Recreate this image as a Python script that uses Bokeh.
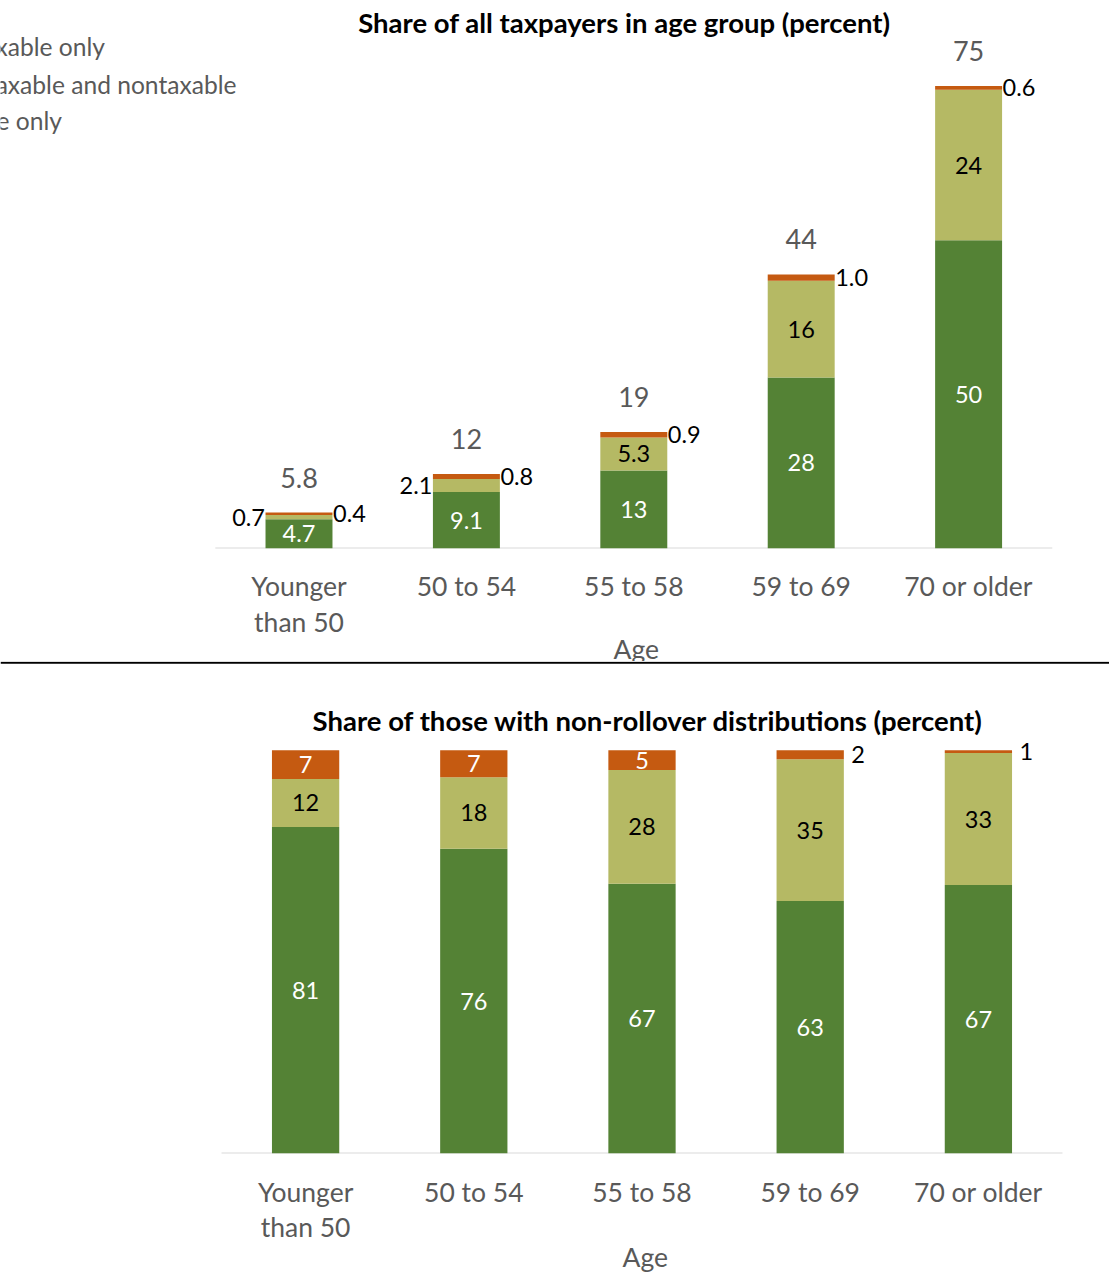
from bokeh.plotting import figure
from bokeh.models import ColumnDataSource, Range1d, Span, Title, FixedTicker
from bokeh.layouts import column
from bokeh.embed import file_html
from bokeh.resources import INLINE
from bokeh.core.properties import value
import numpy as np

# ---------------- data ----------------
ages = ["Younger\nthan 50", "50 to 54", "55 to 58", "59 to 69", "70 or older"]
legend_names = ["Nontaxable only", "Both taxable and nontaxable", "Taxable only"]

top_taxable = [4.7, 9.1, 12.6, 27.6, 49.7]
top_both = [0.7, 2.1, 5.3, 15.6, 24.3]
top_nontax = [0.4, 0.8, 0.9, 1.0, 0.6]

bot_taxable = [81.0, 75.6, 66.9, 62.6, 66.6]
bot_both = [11.9, 17.7, 28.2, 35.2, 32.7]
bot_nontax = [7.1, 6.7, 4.9, 2.2, 0.7]

title_top = "Share of all taxpayers in age group (percent)"
title_bot = "Share of those with non-rollover distributions (percent)"
axis_title = "Age"

# ---------------- styles ----------------
GREEN = "#548235"
OLIVE = "#b5b964"
ORANGE = "#c55a11"
GREY = "#595959"
FONT = "Lato"
W = 1109
BAR_W = 0.4
VAL_SIZE = "23.5px"
CAT_SIZE = "26.5px"

idx = list(range(len(ages)))


def fmt_top(v):
    return f"{v:.1f}" if v < 10 else f"{v:.0f}"


def fmt_bot(v):
    return f"{v:.0f}"


def make_fig(frame_h, ymax, x0, spacing, min_bottom, standoff, line_h, age_offset, age_standoff):
    start = -x0 / spacing
    p = figure(frame_width=W, frame_height=frame_h,
               x_range=Range1d(start, start + W / spacing), y_range=Range1d(0, ymax),
               output_backend="svg", toolbar_location=None, y_axis_location=None,
               min_border_left=0, min_border_right=0, min_border_top=0,
               min_border_bottom=min_bottom)
    p.title.visible = False
    p.grid.visible = False
    p.outline_line_color = None
    ax = p.xaxis[0]
    ax.ticker = FixedTicker(ticks=idx)
    ax.major_label_overrides = {i: a for i, a in zip(idx, ages)}
    ax.axis_line_color = None
    ax.major_tick_line_color = None
    ax.minor_tick_line_color = None
    ax.major_tick_out = 0
    ax.major_tick_in = 0
    ax.major_label_standoff = standoff
    ax.major_label_text_font = FONT
    ax.major_label_text_font_size = CAT_SIZE
    ax.major_label_text_color = GREY
    ax.major_label_text_line_height = line_h
    ax.major_label_orientation = "horizontal"
    # baseline of the category area
    p.segment(x0=[idx[0] - 0.5], x1=[idx[-1] + 0.5], y0=[0], y1=[0], line_color="#d9d9d9", line_width=2)
    p.add_layout(Title(text=axis_title, align="left", offset=age_offset, standoff=age_standoff,
                       vertical_align="middle", text_font=FONT, text_font_size=CAT_SIZE,
                       text_font_style="normal", text_color=GREY), "below")
    return p


def stack(p, taxable, both, nontax):
    t = np.array(taxable)
    b = np.array(both)
    n = np.array(nontax)
    src = ColumnDataSource(dict(x=idx, b0=np.zeros(5), t0=t, b1=t, t1=t + b, b2=t + b, t2=t + b + n))
    p.vbar(x="x", bottom="b0", top="t0", width=BAR_W, source=src, fill_color=GREEN, line_color=None)
    p.vbar(x="x", bottom="b1", top="t1", width=BAR_W, source=src, fill_color=OLIVE, line_color=None)
    p.vbar(x="x", bottom="b2", top="t2", width=BAR_W, source=src, fill_color=ORANGE, line_color=None)
    return t, b, n


def add_texts(p, xs, ys, texts, color, align, x_off=0, y_off=0, size=VAL_SIZE, bold=False):
    if not len(xs):
        return
    src = ColumnDataSource(dict(x=list(xs), y=list(ys), t=list(texts)))
    p.text(x="x", y="y", text="t", source=src, text_font=value(FONT), text_font_size=size,
           text_color=color, text_align=align, text_baseline="middle", x_offset=x_off, y_offset=y_off,
           text_font_style="bold" if bold else "normal")


# ---------------- top chart ----------------
TOP_SCALE = 6.2
TOP_FRAME = 548
p1 = make_fig(TOP_FRAME, TOP_FRAME / TOP_SCALE, 298.5, 167.4, 113, 21, 1.15, 613, -20)
t, b, n = stack(p1, top_taxable, top_both, top_nontax)

add_texts(p1, idx, t / 2, [fmt_top(v) for v in t], "white", "center")
inside = [i for i in idx if b[i] >= 3]
left = [i for i in idx if b[i] < 3]
add_texts(p1, inside, [t[i] + b[i] / 2 for i in inside], [fmt_top(b[i]) for i in inside], "black", "center")
add_texts(p1, left, [t[i] + b[i] / 2 for i in left], [fmt_top(b[i]) for i in left], "black", "right", x_off=-34)
add_texts(p1, idx, t + b + n / 2, [fmt_top(v) for v in n], "black", "left", x_off=34)
tot = t + b + n
add_texts(p1, idx, tot, [fmt_top(v) for v in tot], GREY, "center", y_off=-35, size="27px")

add_texts(p1, [1.944], [84.8], [title_top], "black", "center", size="27.5px", bold=True)
add_texts(p1, [-2.213] * 3, [80.9, 74.8, 69.0], legend_names, GREY, "left", size="24.6px")

# ---------------- bottom chart ----------------
BOT_SCALE = 4.032
BOT_FRAME = 492
p2 = make_fig(BOT_FRAME, BOT_FRAME / BOT_SCALE, 305.1, 168.2, 121, 22, 1.10, 622, -12)
t, b, n = stack(p2, bot_taxable, bot_both, bot_nontax)

add_texts(p2, idx, t / 2, [fmt_bot(v) for v in t], "white", "center")
add_texts(p2, idx, t + b / 2, [fmt_bot(v) for v in b], "black", "center")
ins = [i for i in idx if n[i] >= 4]
out = [i for i in idx if n[i] < 4]
add_texts(p2, ins, [t[i] + b[i] + n[i] / 2 for i in ins], [fmt_bot(n[i]) for i in ins], "white", "center")
add_texts(p2, out, [t[i] + b[i] + n[i] / 2 for i in out], [fmt_bot(n[i]) for i in out], "black", "left", x_off=41)

add_texts(p2, [2.036], [107.4], [title_bot], "black", "center", size="27.5px", bold=True)
p2.add_layout(Span(location=121.7, dimension="width", line_color="black", line_width=2))

layout = column(p1, p2, spacing=0)
open("out.html", "w").write(file_html(layout, INLINE))
